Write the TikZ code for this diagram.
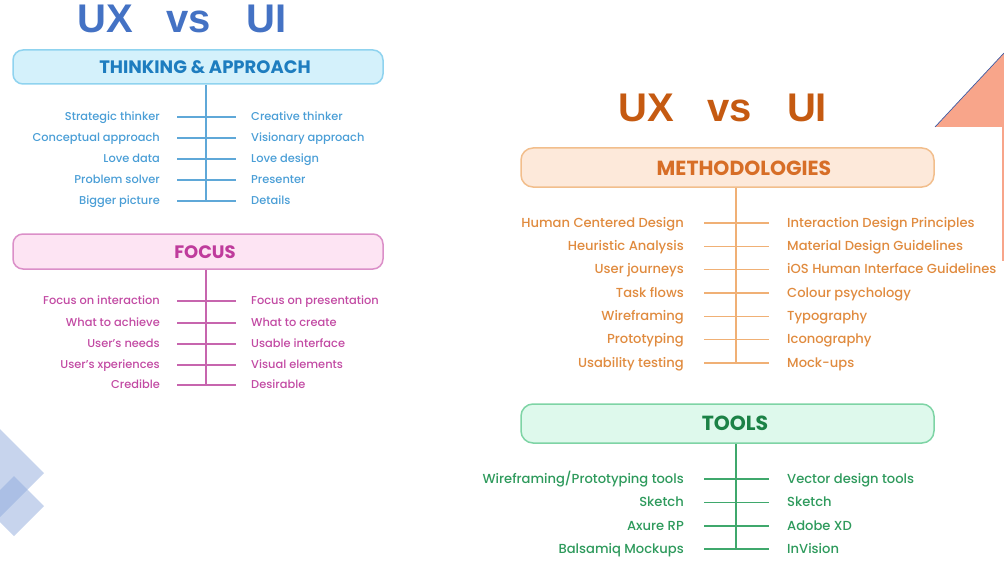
\documentclass[tikz,border=0pt]{standalone}
\usepackage{fontspec}
\setmainfont{Poppins}
\newfontfamily\itemfont{Poppins Medium}
\newfontfamily\titlefont{Liberation Sans}
\definecolor{blueTitle}{HTML}{4472C4}
\definecolor{orangeTitle}{HTML}{C55A11}
\definecolor{thinkFill}{HTML}{D4F1FB}
\definecolor{thinkDraw}{HTML}{8FD3EF}
\definecolor{thinkHead}{HTML}{1E7DBF}
\definecolor{thinkText}{HTML}{4A9ED6}
\definecolor{thinkLine}{HTML}{5FA8D8}
\definecolor{focusFill}{HTML}{FDE4F3}
\definecolor{focusDraw}{HTML}{DB8FC8}
\definecolor{focusHead}{HTML}{BF3B9C}
\definecolor{focusText}{HTML}{C24AA3}
\definecolor{focusLine}{HTML}{C765AE}
\definecolor{methFill}{HTML}{FDE9DA}
\definecolor{methDraw}{HTML}{F2BE8C}
\definecolor{methHead}{HTML}{D76E27}
\definecolor{methText}{HTML}{E08B3F}
\definecolor{methLine}{HTML}{F0B075}
\definecolor{toolFill}{HTML}{DEF9EC}
\definecolor{toolDraw}{HTML}{7ED4A5}
\definecolor{toolHead}{HTML}{1B8246}
\definecolor{toolText}{HTML}{2E9A5C}
\definecolor{toolLine}{HTML}{3FA86C}
\definecolor{diamondBlue}{HTML}{8FAADC}
\definecolor{salmon}{HTML}{F8A58A}
\definecolor{edgeBlue}{HTML}{3B5BA5}
\begin{document}
\begin{tikzpicture}[x=1pt,y=-1pt,
  bigtitle/.style={inner sep=0pt, font=\titlefont\bfseries\fontsize{#1}{#1}\selectfont},
  panelbox/.style={draw=#1Draw, fill=#1Fill, line width=1.5pt, rounded corners=10pt, inner sep=0pt},
  head/.style={inner sep=0pt, text=#1Head, font=\bfseries\fontsize{18}{19}\selectfont},
  headR/.style={inner sep=0pt, text=#1Head, font=\bfseries\fontsize{20.4}{21}\selectfont},
  itemL/.style={anchor=base east, inner sep=0pt, text=#1Text, font=\itemfont\fontsize{11.4}{13}\selectfont},
  itemR/.style={anchor=base west, inner sep=0pt, text=#1Text, font=\itemfont\fontsize{11.4}{13}\selectfont},
  bigitemL/.style={anchor=base east, inner sep=0pt, text=#1Text, font=\itemfont\fontsize{13.1}{15}\selectfont},
  bigitemR/.style={anchor=base west, inner sep=0pt, text=#1Text, font=\itemfont\fontsize{13.1}{15}\selectfont},
  rule/.style={draw=#1Line, line width=1.2pt},
  deco/.style={fill=diamondBlue, fill opacity=0.5}
]
\useasboundingbox (0,0) rectangle (1004,567);
\clip (0,0) rectangle (1004,567);

% decorations
\fill[deco] (44,473) -- (0,429) -- (-44,473) -- (0,517) -- cycle;
\fill[deco] (44,506) -- (14,476) -- (-16,506) -- (14,536) -- cycle;
\fill[salmon] (935,127) -- (1004,53) -- (1004,127) -- cycle;
\draw[edgeBlue, line width=0.7pt] (935,127) -- (1004,53);
\draw[salmon, line width=1.2pt] (1003,127) -- (1003,261);

% titles
\node[bigtitle=40, text=blueTitle] (titleL) at (182,18.5) {UX\hspace{33pt}vs\hspace{36pt}UI};
\node[bigtitle=40, text=orangeTitle] (titleR) at (723,108) {UX\hspace{33pt}vs\hspace{35pt}UI};

% THINKING & APPROACH
\node[panelbox=think, minimum width=370pt, minimum height=34pt] (thinkbox) at (198,67) {};
\node[head=think] (thinkhead) at (205,67) {THINKING \& APPROACH};
\foreach \y/\l/\r [count=\i] in {117/Strategic thinker/Creative thinker,
    138/Conceptual approach/Visionary approach,
    159/Love data/Love design,
    180/Problem solver/Presenter,
    201/Bigger picture/Details} {
  \node[itemL=think] (thL\i) at (160,\y+3.5) {\l};
  \node[itemR=think] (thR\i) at (251,\y+3.5) {\r};
  \coordinate (tha\i) at (177,\y);
  \coordinate (thb\i) at (236,\y);
  \draw[rule=think] (tha\i) -- (thb\i);
}
\coordinate (thend) at (206,201);
\draw[rule=think] (thinkbox.south -| thend) -- (thend);

% FOCUS
\node[panelbox=focus, minimum width=370pt, minimum height=35pt] (focusbox) at (198,251.5) {};
\node[head=focus] (focushead) at (205,252) {FOCUS};
\foreach \y/\l/\r [count=\i] in {301/Focus on interaction/Focus on presentation,
    323/What to achieve/What to create,
    344/User’s needs/Usable interface,
    365/User’s xperiences/Visual elements,
    385/Credible/Desirable} {
  \node[itemL=focus] (foL\i) at (160,\y+3.5) {\l};
  \node[itemR=focus] (foR\i) at (251,\y+3.5) {\r};
  \coordinate (foa\i) at (177,\y);
  \coordinate (fob\i) at (236,\y);
  \draw[rule=focus] (foa\i) -- (fob\i);
}
\coordinate (foend) at (206,385);
\draw[rule=focus] (focusbox.south -| foend) -- (foend);

% METHODOLOGIES
\node[panelbox=meth, minimum width=413pt, minimum height=39pt, rounded corners=12pt] (methbox) at (727.5,167.5) {};
\node[headR=meth] (methhead) at (744,168) {METHODOLOGIES};
\foreach \y/\l/\r [count=\i] in {223/Human Centered Design/Interaction Design Principles,
    246.3/Heuristic Analysis/Material Design Guidelines,
    269.7/User journeys/iOS Human Interface Guidelines,
    293/Task flows/Colour psychology,
    316.3/Wireframing/Typography,
    339.7/Prototyping/Iconography,
    363/Usability testing/Mock-ups} {
  \node[bigitemL=meth] (meL\i) at (684,\y+4) {\l};
  \node[bigitemR=meth] (meR\i) at (787,\y+4) {\r};
  \coordinate (mea\i) at (704,\y);
  \coordinate (meb\i) at (769,\y);
  \draw[rule=meth] (mea\i) -- (meb\i);
}
\coordinate (meend) at (736,363);
\draw[rule=meth] (methbox.south -| meend) -- (meend);

% TOOLS
\node[panelbox=tool, minimum width=413pt, minimum height=39pt, rounded corners=12pt] (toolbox) at (727.5,423.5) {};
\node[headR=tool] (toolhead) at (735,423) {TOOLS};
\foreach \y/\l/\r [count=\i] in {479/{Wireframing/Prototyping tools}/Vector design tools,
    502.5/Sketch/Sketch,
    526/Axure RP/Adobe XD,
    549/Balsamiq Mockups/InVision} {
  \node[bigitemL=tool] (toL\i) at (684,\y+4) {\l};
  \node[bigitemR=tool] (toR\i) at (787,\y+4) {\r};
  \coordinate (toa\i) at (704,\y);
  \coordinate (tob\i) at (769,\y);
  \draw[rule=tool] (toa\i) -- (tob\i);
}
\coordinate (toend) at (736,549);
\draw[rule=tool] (toolbox.south -| toend) -- (toend);
\end{tikzpicture}
\end{document}
